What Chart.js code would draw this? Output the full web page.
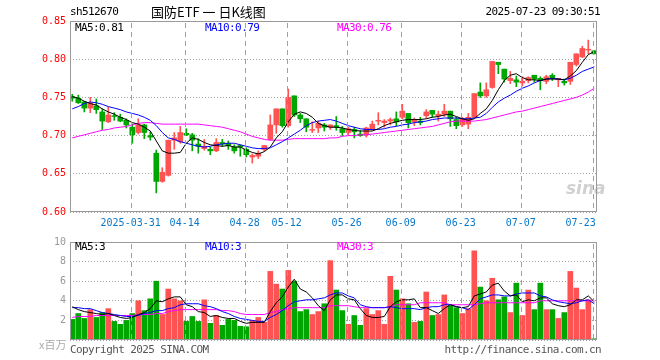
<!DOCTYPE html>
<html>
<head>
<meta charset="utf-8">
<script src="https://cdn.jsdelivr.net/npm/chart.js@4.4.0/dist/chart.umd.min.js"></script>
<style>
  body { margin: 0; background: #fff; }
  #wrap { position: relative; width: 660px; height: 360px; overflow: hidden; }
  canvas { position: absolute; left: 0; }
  .t { position: absolute; font-family: "DejaVu Sans Mono", monospace; font-size: 11px; letter-spacing: -0.6px; white-space: nowrap; line-height: 12px; }
</style>
</head>
<body>
<div id="wrap">
  <canvas id="price" width="660" height="232" style="top:0"></canvas>
  <canvas id="vol" width="660" height="128" style="top:232px"></canvas>

  <div class="t" style="left:70px; top:6px; color:#000">sh512670</div>
  <div class="t" style="left:151px; top:4px; font-family:'Noto Sans CJK SC'; font-size:13px; letter-spacing:0; line-height:16px; color:#000">国防ETF 一 日K线图</div>
  <div class="t" style="right:60px; top:6px; color:#000">2025-07-23 09:30:51</div>

  <div class="t" style="left:75px; top:22px; color:#000">MA5:0.81</div>
  <div class="t" style="left:205px; top:22px; color:#0000ff">MA10:0.79</div>
  <div class="t" style="left:337px; top:22px; color:#ff00ff">MA30:0.76</div>

  <div class="t" style="left:75px; top:241px; color:#000">MA5:3</div>
  <div class="t" style="left:205px; top:241px; color:#0000ff">MA10:3</div>
  <div class="t" style="left:337px; top:241px; color:#ff00ff">MA30:3</div>

  <div class="t" style="left:39px; top:338px; color:#aaa; font-family:'Noto Sans CJK SC'; font-size:11px; letter-spacing:0">x百万</div>
  <div class="t" style="left:70px; top:344px; color:#555">Copyright 2025 SINA.COM</div>
  <div class="t" style="right:59px; top:344px; color:#555">http://finance.sina.com.cn</div>

  <div class="t" style="left:566px; top:182px; color:rgba(150,150,150,0.45); font-family:'DejaVu Sans'; font-weight:bold; font-style:italic; font-size:17px; letter-spacing:0">sina</div>
</div>

<script>
// ---------------------------------------------
// Data, 2025-03-17 .. 2025-07-23
// ---------------------------------------------
const open = [
  0.751, 0.749, 0.744, 0.736, 0.739, 0.731, 0.718, 0.726, 0.724, 0.720,
  0.711, 0.704, 0.714, 0.700, 0.677, 0.640, 0.648, 0.694, 0.692, 0.703,
  0.701, 0.689, 0.683, 0.682, 0.680, 0.691, 0.690, 0.685, 0.687, 0.682,
  0.672, 0.673, 0.682, 0.695, 0.714, 0.735, 0.713, 0.752, 0.727, 0.722,
  0.707, 0.710, 0.714, 0.711, 0.713, 0.709, 0.704, 0.708, 0.702, 0.701,
  0.709, 0.719, 0.717, 0.719, 0.722, 0.724, 0.729, 0.718, 0.719, 0.726,
  0.733, 0.726, 0.728, 0.732, 0.721, 0.714, 0.715, 0.724, 0.757, 0.752,
  0.763, 0.796, 0.787, 0.772, 0.773, 0.769, 0.772, 0.779, 0.775, 0.771,
  0.779, 0.773, 0.771, 0.771, 0.793, 0.803, 0.812, 0.811
];
const high = [
  0.754, 0.753, 0.745, 0.750, 0.748, 0.735, 0.737, 0.730, 0.728, 0.722,
  0.715, 0.722, 0.715, 0.705, 0.681, 0.658, 0.694, 0.704, 0.712, 0.709,
  0.703, 0.696, 0.695, 0.685, 0.696, 0.695, 0.693, 0.688, 0.688, 0.684,
  0.676, 0.680, 0.687, 0.727, 0.735, 0.735, 0.761, 0.752, 0.729, 0.722,
  0.718, 0.719, 0.716, 0.714, 0.725, 0.712, 0.711, 0.711, 0.707, 0.711,
  0.719, 0.730, 0.721, 0.723, 0.731, 0.741, 0.729, 0.723, 0.724, 0.734,
  0.733, 0.732, 0.741, 0.732, 0.724, 0.724, 0.729, 0.755, 0.769, 0.769,
  0.797, 0.796, 0.787, 0.784, 0.778, 0.777, 0.777, 0.779, 0.777, 0.779,
  0.781, 0.775, 0.774, 0.796, 0.807, 0.817, 0.825, 0.811
];
const low = [
  0.745, 0.742, 0.731, 0.730, 0.729, 0.708, 0.717, 0.720, 0.718, 0.710,
  0.690, 0.702, 0.696, 0.694, 0.625, 0.639, 0.647, 0.682, 0.690, 0.700,
  0.680, 0.677, 0.681, 0.675, 0.679, 0.686, 0.682, 0.677, 0.673, 0.672,
  0.664, 0.670, 0.680, 0.694, 0.703, 0.711, 0.711, 0.725, 0.717, 0.705,
  0.704, 0.704, 0.706, 0.708, 0.707, 0.700, 0.700, 0.697, 0.699, 0.698,
  0.707, 0.714, 0.711, 0.714, 0.713, 0.722, 0.710, 0.713, 0.714, 0.723,
  0.724, 0.719, 0.725, 0.712, 0.709, 0.712, 0.709, 0.723, 0.750, 0.750,
  0.762, 0.781, 0.770, 0.768, 0.764, 0.765, 0.769, 0.770, 0.760, 0.768,
  0.772, 0.764, 0.766, 0.767, 0.791, 0.802, 0.807, 0.807
];
const close = [
  0.749, 0.743, 0.736, 0.742, 0.734, 0.719, 0.727, 0.725, 0.719, 0.714,
  0.701, 0.714, 0.704, 0.698, 0.640, 0.652, 0.694, 0.697, 0.704, 0.701,
  0.694, 0.686, 0.686, 0.680, 0.691, 0.689, 0.687, 0.680, 0.685, 0.675,
  0.674, 0.677, 0.687, 0.714, 0.735, 0.713, 0.750, 0.727, 0.722, 0.711,
  0.708, 0.716, 0.711, 0.714, 0.711, 0.704, 0.709, 0.705, 0.700, 0.710,
  0.715, 0.720, 0.719, 0.721, 0.718, 0.732, 0.717, 0.721, 0.717, 0.731,
  0.728, 0.728, 0.732, 0.722, 0.713, 0.722, 0.724, 0.755, 0.752, 0.760,
  0.797, 0.793, 0.774, 0.775, 0.770, 0.771, 0.776, 0.774, 0.772, 0.777,
  0.775, 0.775, 0.769, 0.796, 0.807, 0.814, 0.813, 0.807
];
const ma5 = [
  0.751, 0.749, 0.745, 0.742, 0.740, 0.735, 0.731, 0.728, 0.724, 0.721,
  0.717, 0.715, 0.711, 0.706, 0.693, 0.680, 0.677, 0.677, 0.678, 0.690,
  0.697, 0.695, 0.691, 0.688, 0.687, 0.686, 0.687, 0.685, 0.685, 0.681,
  0.678, 0.676, 0.679, 0.685, 0.697, 0.705, 0.718, 0.728, 0.731, 0.729,
  0.724, 0.716, 0.713, 0.711, 0.711, 0.710, 0.708, 0.707, 0.706, 0.706,
  0.706, 0.709, 0.713, 0.716, 0.718, 0.720, 0.721, 0.721, 0.721, 0.722,
  0.724, 0.725, 0.727, 0.728, 0.725, 0.722, 0.720, 0.722, 0.729, 0.735,
  0.746, 0.760, 0.772, 0.779, 0.781, 0.776, 0.773, 0.773, 0.772, 0.774,
  0.774, 0.774, 0.773, 0.778, 0.785, 0.796, 0.806, 0.810
];
const ma10 = [
  0.735, 0.738, 0.742, 0.744, 0.743, 0.741, 0.738, 0.736, 0.734, 0.731,
  0.729, 0.727, 0.724, 0.720, 0.713, 0.704, 0.697, 0.695, 0.692, 0.690,
  0.688, 0.686, 0.685, 0.686, 0.688, 0.689, 0.690, 0.690, 0.688, 0.686,
  0.684, 0.683, 0.683, 0.684, 0.688, 0.692, 0.697, 0.702, 0.707, 0.713,
  0.717, 0.719, 0.720, 0.721, 0.719, 0.716, 0.713, 0.711, 0.709, 0.708,
  0.708, 0.708, 0.709, 0.711, 0.712, 0.714, 0.715, 0.717, 0.718, 0.719,
  0.721, 0.722, 0.723, 0.723, 0.723, 0.722, 0.722, 0.723, 0.724, 0.729,
  0.737, 0.744, 0.749, 0.753, 0.758, 0.762, 0.765, 0.769, 0.772, 0.774,
  0.775, 0.774, 0.773, 0.775, 0.779, 0.784, 0.787, 0.790
];
const ma30 = [
  0.697, 0.699, 0.701, 0.703, 0.705, 0.707, 0.708, 0.710, 0.711, 0.712,
  0.714, 0.716, 0.717, 0.717, 0.716, 0.715, 0.715, 0.715, 0.715, 0.715,
  0.715, 0.715, 0.714, 0.713, 0.712, 0.711, 0.709, 0.707, 0.705, 0.702,
  0.699, 0.697, 0.695, 0.694, 0.694, 0.694, 0.695, 0.696, 0.696, 0.696,
  0.696, 0.696, 0.696, 0.697, 0.697, 0.699, 0.700, 0.700, 0.701, 0.701,
  0.702, 0.703, 0.704, 0.705, 0.706, 0.707, 0.708, 0.709, 0.710, 0.711,
  0.712, 0.714, 0.716, 0.718, 0.719, 0.719, 0.719, 0.719, 0.720, 0.721,
  0.723, 0.725, 0.727, 0.729, 0.731, 0.732, 0.734, 0.736, 0.738, 0.740,
  0.742, 0.744, 0.746, 0.748, 0.750, 0.753, 0.757, 0.762
];

// volume, millions of shares
const volume = [
  2.1, 2.7, 2.2, 3.1, 2.3, 2.8, 3.2, 1.9, 1.6, 2.0,
  2.7, 4.0, 3.0, 4.2, 6.0, 2.6, 5.2, 4.2, 4.0, 1.9,
  2.4, 1.9, 4.1, 1.7, 2.5, 1.5, 2.1, 2.0, 1.4, 1.35,
  2.0, 2.3, 1.8, 7.0, 5.7, 5.2, 7.1, 6.0, 2.9, 3.1,
  2.6, 2.9, 3.7, 8.1, 5.1, 3.0, 1.6, 2.5, 1.5, 3.2,
  2.6, 3.0, 1.6, 6.5, 5.1, 4.2, 3.7, 1.8, 1.9, 4.9,
  2.5, 2.6, 4.6, 3.5, 3.3, 2.7, 3.2, 9.1, 5.4, 4.0,
  6.3, 4.1, 4.4, 2.8, 5.8, 2.5, 5.1, 3.1, 5.8, 3.1,
  3.1, 2.2, 2.8, 7.0, 5.3, 3.1, 4.1, 0.13
];
const volMa5 = [
  3.4, 3.1, 2.9, 2.8, 2.7, 2.6, 2.7, 2.5, 2.3, 2.2,
  2.3, 2.6, 2.8, 3.2, 4.0, 3.9, 4.2, 4.4, 4.4, 3.6,
  3.4, 2.9, 2.8, 2.4, 2.5, 2.3, 2.2, 2.2, 1.9, 1.7,
  1.8, 1.8, 1.8, 2.9, 3.8, 4.4, 5.4, 6.2, 5.2, 4.9,
  4.3, 3.5, 3.0, 4.1, 4.6, 4.6, 4.2, 4.1, 3.2, 2.5,
  2.3, 2.3, 2.4, 3.4, 3.9, 4.1, 4.1, 4.2, 3.3, 3.3,
  3.0, 2.7, 3.2, 3.6, 3.4, 3.3, 3.4, 4.5, 4.7, 4.9,
  5.6, 5.8, 5.0, 4.5, 4.6, 3.9, 4.1, 4.0, 4.3, 4.3,
  3.7, 3.5, 3.4, 3.6, 4.1, 4.1, 4.5, 3.9
];
const volMa10 = [
  3.3, 3.3, 3.2, 3.2, 3.0, 2.8, 2.7, 2.6, 2.5, 2.4,
  2.4, 2.5, 2.7, 2.8, 3.0, 3.0, 3.2, 3.3, 3.6, 3.7,
  3.7, 3.7, 3.5, 3.4, 3.2, 2.9, 2.7, 2.4, 2.2, 2.1,
  2.0, 1.9, 1.9, 2.3, 2.6, 3.0, 3.5, 3.9, 4.0, 4.1,
  4.1, 4.2, 4.3, 4.6, 4.8, 4.8, 4.5, 4.3, 3.6, 3.4,
  3.3, 3.3, 3.3, 3.4, 3.3, 3.2, 3.2, 3.2, 3.1, 3.3,
  3.4, 3.4, 3.6, 3.6, 3.4, 3.3, 3.1, 3.6, 4.2, 4.4,
  4.6, 4.6, 4.5, 4.5, 4.7, 4.8, 4.8, 4.8, 4.5, 4.4,
  4.1, 3.9, 3.8, 3.7, 3.8, 4.0, 4.1, 3.7
];
const volMa30 = [
  2.3, 2.4, 2.4, 2.4, 2.5, 2.5, 2.5, 2.5, 2.5, 2.5,
  2.5, 2.6, 2.6, 2.6, 2.7, 2.7, 2.9, 3.0, 3.1, 3.1,
  3.1, 3.1, 3.1, 3.1, 3.1, 3.0, 3.0, 2.9, 2.7, 2.6,
  2.6, 2.6, 2.6, 2.8, 2.9, 3.1, 3.2, 3.3, 3.3, 3.3,
  3.3, 3.3, 3.3, 3.5, 3.5, 3.5, 3.5, 3.4, 3.3, 3.3,
  3.3, 3.3, 3.3, 3.4, 3.6, 3.6, 3.6, 3.6, 3.8, 3.8,
  3.8, 3.8, 3.8, 3.6, 3.6, 3.6, 3.6, 3.6, 3.7, 3.8,
  3.8, 3.8, 3.8, 3.8, 3.8, 3.8, 3.8, 3.8, 4.0, 4.0,
  4.0, 4.0, 4.0, 4.0, 4.0, 4.0, 4.0, 4.0
];

// x tick labels and the bar index each one sits on
// (the last one is padded so it stays inside the frame, as in the original)
const tickLabels = ["2025-03-31", "04-14", "04-28", "05-12", "05-26", "06-09", "06-23", "07-07", "07-23    "];
const tickIndex = [10, 19, 29, 36, 46, 55, 65, 75, 87];
const priceTicks = [0.60, 0.65, 0.70, 0.75, 0.80, 0.85];
const volumeTicks = [0, 2, 4, 6, 8, 10];

// ---------------------------------------------
// Styles
// ---------------------------------------------
const UP = "#ff5252";
const DOWN = "#00a600";
const GRID = "#a0a0a0";
const MONO = "'DejaVu Sans Mono', monospace";

const idx = close.map(function (_, i) { return i; });
const barColors = idx.map(function (i) { return close[i] >= open[i] ? UP : DOWN; });

function pts(arr) {
    return arr.map(function (v, i) { return { x: i, y: v }; });
}

function maLine(arr, color) {
    return {
        type: "line",
        data: pts(arr),
        borderColor: color,
        borderWidth: 1,
        pointRadius: 0,
        tension: 0,
        order: 0
    };
}

// dashed date lines + thin grey frame round the plot area
const framePlugin = {
    id: "frame",
    afterDraw: function (chart) {
        const a = chart.chartArea;
        const ctx = chart.ctx;
        const xs = chart.scales.x;
        ctx.save();
        ctx.fillStyle = GRID;
        tickIndex.forEach(function (v) {
            const px = Math.round(xs.getPixelForValue(v - 0.27));
            for (let y = Math.round(a.top) + 2; y < a.bottom - 1; y += 9) {
                ctx.fillRect(px, y, 1, Math.min(5, a.bottom - 1 - y));
            }
        });
        ctx.strokeStyle = "#9a9a9a";
        ctx.lineWidth = 1;
        ctx.strokeRect(Math.round(a.left) + 0.5, Math.round(a.top) + 0.5,
            Math.round(a.right - a.left) - 1, Math.round(a.bottom - a.top) - 1);
        ctx.restore();
    }
};

function xScale(showLabels, height) {
    return {
        type: "linear",
        min: -0.38,
        max: 87.45,
        offset: false,
        afterBuildTicks: function (s) {
            s.ticks = tickIndex.map(function (v) { return { value: v - 0.27 }; });
        },
        afterFit: function (s) { s.height = height; },
        ticks: {
            display: showLabels,
            autoSkip: false,
            maxRotation: 0,
            padding: 5,
            color: "#0a78c8",
            font: { family: MONO, size: 10 },
            callback: function (v, i) { return tickLabels[i]; }
        },
        grid: { display: false, drawTicks: false, offset: false },
        border: { display: false }
    };
}

// ---------------------------------------------
// Price chart
// ---------------------------------------------
new Chart(document.getElementById("price"), {
    data: {
        datasets: [
            maLine(ma5, "#000000"),
            maLine(ma10, "#0000ff"),
            maLine(ma30, "#ff00ff"),
            {
                type: "bar",
                data: idx.map(function (i) { return { x: i, y: [open[i], close[i]] }; }),
                backgroundColor: barColors,
                barThickness: 5,
                grouped: false,
                order: 1
            },
            {
                type: "bar",
                data: idx.map(function (i) { return { x: i, y: [low[i], high[i]] }; }),
                backgroundColor: barColors,
                barThickness: 1,
                grouped: false,
                order: 2
            }
        ]
    },
    options: {
        responsive: false,
        animation: false,
        devicePixelRatio: 1,
        layout: { padding: { top: 21, right: 63, left: 0, bottom: 0 } },
        plugins: { legend: { display: false }, tooltip: { enabled: false } },
        scales: {
            x: xScale(true, 20),
            y: {
                min: 0.60,
                max: 0.85,
                afterBuildTicks: function (s) {
                    s.ticks = priceTicks.map(function (v) { return { value: v }; });
                },
                afterFit: function (s) { s.width = 70; },
                ticks: {
                    color: "#ff0000",
                    padding: 4,
                    font: { family: MONO, size: 10 },
                    callback: function (v) { return v.toFixed(2); }
                },
                grid: { color: GRID, lineWidth: 1, drawTicks: false },
                border: { display: false, dash: [1, 2] }
            }
        }
    },
    plugins: [framePlugin]
});

// ---------------------------------------------
// Volume chart
// ---------------------------------------------
new Chart(document.getElementById("vol"), {
    data: {
        datasets: [
            maLine(volMa5, "#000000"),
            maLine(volMa10, "#0000ff"),
            maLine(volMa30, "#ff00ff"),
            {
                type: "bar",
                data: pts(volume),
                backgroundColor: barColors,
                barThickness: 5,
                grouped: false,
                order: 1
            }
        ]
    },
    options: {
        responsive: false,
        animation: false,
        devicePixelRatio: 1,
        layout: { padding: { top: 8, right: 63, left: 0, bottom: 0 } },
        plugins: { legend: { display: false }, tooltip: { enabled: false } },
        scales: {
            x: xScale(false, 20),
            y: {
                min: 0,
                max: 10,
                afterBuildTicks: function (s) {
                    s.ticks = volumeTicks.map(function (v) { return { value: v }; });
                },
                afterFit: function (s) { s.width = 70; },
                ticks: {
                    color: "#999999",
                    padding: 4,
                    font: { family: MONO, size: 10 },
                    callback: function (v) { return v === 0 ? "" : String(v); }
                },
                grid: { color: GRID, lineWidth: 1, drawTicks: false },
                border: { display: false, dash: [1, 2] }
            }
        }
    },
    plugins: [framePlugin]
});
</script>
</body>
</html>
